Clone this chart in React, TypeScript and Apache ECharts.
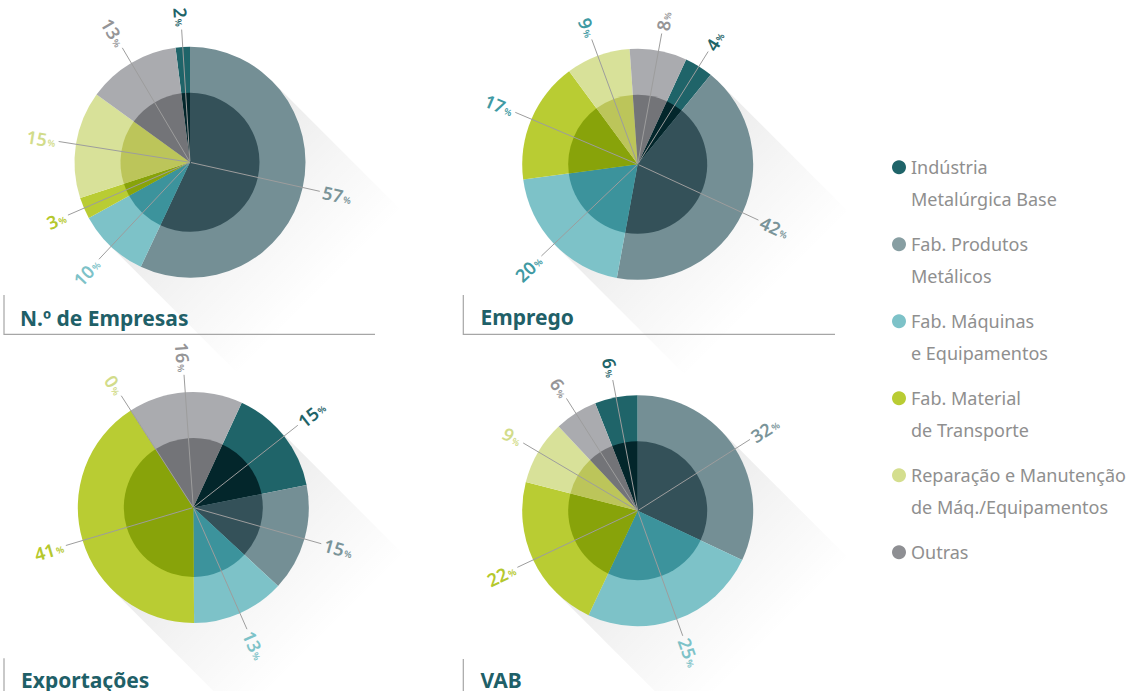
import React, { useEffect, useRef } from 'react';
import * as echarts from 'echarts';

// ---------- DATA ----------
const categories = [
  'Indústria\nMetalúrgica Base',
  'Fab. Produtos\nMetálicos',
  'Fab. Máquinas\ne Equipamentos',
  'Fab. Material\nde Transporte',
  'Reparação e Manutenção\nde Máq./Equipamentos',
  'Outras',
];

const chartTitles = ['N.º de Empresas', 'Emprego', 'Exportações', 'VAB'];

// values in % (same order as categories)
const empresasValues = [2, 57, 10, 3, 15, 13];
const empregoValues = [4, 42, 20, 17, 9, 8];
const exportacoesValues = [15, 15, 13, 41, 0, 16];
const vabValues = [6, 32, 25, 22, 9, 6];

const allValues = [empresasValues, empregoValues, exportacoesValues, vabValues];

// ---------- STYLE ----------
const FONT = '"Noto Sans", "Open Sans", sans-serif';
const OUTER_COLORS = ['#1f6469', '#748f95', '#7dc2c8', '#b9cc33', '#d8e199', '#aaabaf'];
const INNER_COLORS = ['#03262b', '#345159', '#3c939c', '#88a30a', '#bcc55a', '#737478'];
const LEGEND_COLORS = ['#1f6469', '#879ea2', '#7dc2c8', '#b9cc33', '#d4de8e', '#8e8f93'];
const LABEL_COLORS = [
  ['#1f6469', '#7a9499', '#7dc2c8', '#b5c82c', '#d2dc8a', '#959597'],
  ['#1f6469', '#7a9499', '#3f9aa3', '#3f9aa3', '#3f9aa3', '#959597'],
  ['#1f6469', '#7a9499', '#7dc2c8', '#b5c82c', '#d2dc8a', '#959597'],
  ['#1f6469', '#7a9499', '#7dc2c8', '#b5c82c', '#d2dc8a', '#959597'],
];

const R_OUT = 115.5;
const R_IN = 69.5;
const LINE_LEN = 132;
const SHADOW_LEN = 185;

const PANELS = [
  { cx: 190, cy: 162.3, startAngle: 97.2, titleX: 20, titleY: 317.5, fx: 4, fTop: 295, fBottom: 334.3, fRight: 375 },
  { cx: 637.7, cy: 164.3, startAngle: 65.2, titleX: 480.5, titleY: 316.5, fx: 463.3, fTop: 295, fBottom: 334.3, fRight: 835 },
  { cx: 193.3, cy: 507.5, startAngle: 65.2, titleX: 21, titleY: 680, fx: 4, fTop: 658.3, fBottom: 696, fRight: 375 },
  { cx: 637.7, cy: 510.7, startAngle: 111.6, titleX: 480.5, titleY: 680, fx: 463.3, fTop: 659, fBottom: 696, fRight: 835 },
];

function buildOption() {
  const series: any[] = [];
  const graphics: any[] = [];
  const s = Math.SQRT1_2;

  PANELS.forEach((p, i) => {
    const vals = allValues[i];
    series.push({
      type: 'pie',
      name: chartTitles[i] + ' (exterior)',
      center: [p.cx, p.cy],
      radius: [0, R_OUT],
      startAngle: p.startAngle,
      silent: true,
      z: 2,
      label: { show: false },
      labelLine: { show: false },
      data: categories.map((c, k) => ({ name: c, value: vals[k], itemStyle: { color: OUTER_COLORS[k] } })),
    });
    series.push({
      type: 'pie',
      name: chartTitles[i] + ' (interior)',
      center: [p.cx, p.cy],
      radius: [0, R_IN],
      startAngle: p.startAngle,
      silent: true,
      z: 3,
      label: { show: false },
      labelLine: { show: false },
      data: categories.map((c, k) => ({ name: c, value: vals[k], itemStyle: { color: INNER_COLORS[k] } })),
    });
    series.push({
      type: 'pie',
      name: chartTitles[i],
      center: [p.cx, p.cy],
      radius: [0, 1],
      startAngle: p.startAngle,
      silent: true,
      z: 4,
      avoidLabelOverlap: false,
      itemStyle: { color: 'rgba(0,0,0,0)' },
      label: {
        show: true,
        position: 'outside',
        rotate: 'radial',
        distanceToLabelLine: 0,
        padding: [0, 3, 0, 3],
        formatter: (prm: any) => `{n|${prm.value}}{p|%}`,
        rich: {
          n: { fontSize: 18, fontFamily: FONT, fontWeight: 600 },
          p: { fontSize: 9, fontFamily: FONT, fontWeight: 600, verticalAlign: 'bottom', padding: [0, 0, 2, 1] },
        },
      },
      labelLine: {
        show: true,
        length: LINE_LEN,
        length2: 0,
        smooth: false,
        lineStyle: { color: '#9d9d9d', width: 1 },
      },
      data: categories.map((c, k) => ({ name: c, value: vals[k], label: { color: LABEL_COLORS[i][k] } })),
    });

    // long shadow
    const ax = p.cx + R_OUT * s, ay = p.cy - R_OUT * s;
    const bx = p.cx - R_OUT * s, by = p.cy + R_OUT * s;
    graphics.push({
      type: 'polygon',
      z: 0,
      silent: true,
      shape: {
        points: [
          [ax, ay],
          [ax + SHADOW_LEN * s, ay + SHADOW_LEN * s],
          [bx + SHADOW_LEN * s, by + SHADOW_LEN * s],
          [bx, by],
        ],
      },
      style: {
        fill: new echarts.graphic.LinearGradient(
          p.cx, p.cy, p.cx + SHADOW_LEN * s, p.cy + SHADOW_LEN * s,
          [
            { offset: 0, color: 'rgba(0,0,0,0.085)' },
            { offset: 0.5, color: 'rgba(0,0,0,0.04)' },
            { offset: 1, color: 'rgba(0,0,0,0)' },
          ],
          true
        ),
      },
    });

    // frame
    graphics.push({
      type: 'polyline',
      z: 10,
      silent: true,
      shape: { points: [[p.fx, p.fTop], [p.fx, p.fBottom], [p.fRight, p.fBottom]] },
      style: { stroke: '#a6a6a6', lineWidth: 1.2, fill: null },
    });
    // title
    graphics.push({
      type: 'text',
      z: 10,
      silent: true,
      x: p.titleX,
      y: p.titleY,
      style: {
        text: chartTitles[i],
        fill: '#1f6068',
        fontSize: 21,
        fontWeight: 'bold',
        fontFamily: FONT,
        verticalAlign: 'middle',
        align: 'left',
      },
    });
  });

  return {
    animation: false,
    backgroundColor: '#ffffff',
    legend: {
      orient: 'vertical',
      left: 892,
      top: 120,
      padding: 0,
      itemGap: -17.5,
      itemWidth: 14,
      itemHeight: 14,
      icon: 'circle',
      selectedMode: false,
      data: categories.map((c, k) => ({ name: c, itemStyle: { color: LEGEND_COLORS[k], borderWidth: 0 } })),
      formatter: (n: string) => (n.indexOf('\n') >= 0 ? '\n' + n : '\n' + n + '\n '),
      textStyle: { fontFamily: FONT, fontSize: 18, color: '#8f8f8f', lineHeight: 31.5 },
    },
    graphic: { elements: graphics },
    series,
  };
}

export default function App() {
  const ref = useRef<HTMLDivElement>(null);
  useEffect(() => {
    if (!ref.current) return;
    const chart = echarts.init(ref.current, undefined, { renderer: 'svg' });
    chart.setOption(buildOption() as any);
    return () => chart.dispose();
  }, []);
  return (
    <div
      ref={ref}
      style={{ position: 'fixed', left: 0, top: 0, width: 1145, height: 691, background: '#fff' }}
    />
  );
}
